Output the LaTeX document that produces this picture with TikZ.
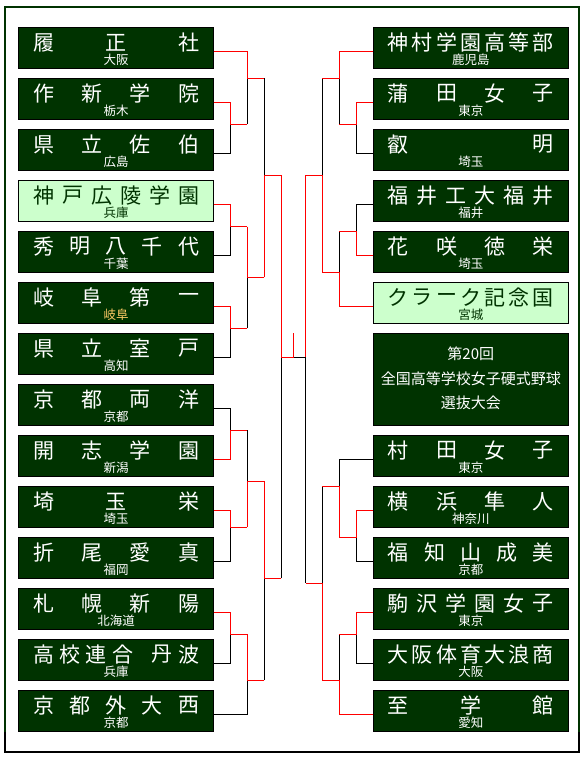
\documentclass[tikz,border=0pt]{standalone}
\usepackage{fontspec}
\newfontfamily\jp{Noto Sans CJK JP}
\usetikzlibrary{calc}
\definecolor{dg}{HTML}{003300}
\definecolor{lg}{HTML}{CCFFCC}
\definecolor{pref}{HTML}{FFCC66}
\tikzset{
  basebox/.style={draw=black, line width=1pt, minimum width=195pt, minimum height=41pt, inner sep=0pt, outer sep=0pt},
  darkbox/.style={basebox, fill=dg},
  lightbox/.style={basebox, fill=lg},
  darktxt/.style={font=\jp\fontsize{21}{21}\selectfont, text=white, inner sep=0pt},
  lighttxt/.style={font=\jp\fontsize{21}{21}\selectfont, text=dg, inner sep=0pt},
  darksm/.style={font=\jp\fontsize{12.5}{12.5}\selectfont, text=white, inner sep=0pt},
  lightsm/.style={font=\jp\fontsize{12.5}{12.5}\selectfont, text=dg, inner sep=0pt},
  orangesm/.style={font=\jp\fontsize{12.5}{12.5}\selectfont, text=pref, inner sep=0pt},
  win/.style={draw=red, line width=1pt},
  lose/.style={draw=black, line width=1pt},
}
% #1 id, #2 x, #3 top, #4 n chars, #5 chars, #6 prefecture, #7 style prefix, #8 pref style
\newcommand\teambox[8]{%
  \node[#7box, anchor=north west] (#1) at (#2,#3) {};
  \foreach \ch [count=\k from 0] in {#5} {%
    \pgfmathsetmacro\xx{#2+25+\k*145/(#4-1)}%
    \node[#7txt] (#1-c\k) at (\xx,#3+15.2) {\ch};
  }%
  \node[#8] (#1-p) at (#2+97.5,#3+32.2) {#6};
}
% positioned variant: #4 = max position, #5 = pos/char list
\newcommand\teamboxpos[8]{%
  \node[#7box, anchor=north west] (#1) at (#2,#3) {};
  \foreach \ps/\ch [count=\k from 0] in {#5} {%
    \pgfmathsetmacro\xx{#2+25+\ps*145/#4}%
    \node[#7txt] (#1-c\k) at (\xx,#3+15.2) {\ch};
  }%
  \node[#8] (#1-p) at (#2+97.5,#3+32.2) {#6};
}
\begin{document}
\begin{tikzpicture}[x=1pt,y=-1pt]
\useasboundingbox (0,0) rectangle (587,760);
\fill[white] (0,0) rectangle (587,760);
% frame
\draw[dg, line width=2pt] (5,733) -- (5,7) -- (579,7) -- (579,733);
\draw[black, line width=2pt] (5,732) -- (5,752) -- (579,752) -- (579,732);

% left teams
\teambox{L1}{18.5}{27.3}{3}{履,正,社}{大阪}{dark}{darksm}
\teambox{L2}{18.5}{78.3}{4}{作,新,学,院}{栃木}{dark}{darksm}
\teambox{L3}{18.5}{129.3}{4}{県,立,佐,伯}{広島}{dark}{darksm}
\teambox{L4}{18.5}{180.3}{6}{神,戸,広,陵,学,園}{兵庫}{light}{lightsm}
\teambox{L5}{18.5}{231.3}{5}{秀,明,八,千,代}{千葉}{dark}{darksm}
\teambox{L6}{18.5}{282.3}{4}{岐,阜,第,一}{岐阜}{dark}{orangesm}
\teambox{L7}{18.5}{333.3}{4}{県,立,室,戸}{高知}{dark}{darksm}
\teambox{L8}{18.5}{384.3}{4}{京,都,両,洋}{京都}{dark}{darksm}
\teambox{L9}{18.5}{435.3}{4}{開,志,学,園}{新潟}{dark}{darksm}
\teambox{L10}{18.5}{486.3}{3}{埼,玉,栄}{埼玉}{dark}{darksm}
\teambox{L11}{18.5}{537.3}{4}{折,尾,愛,真}{福岡}{dark}{darksm}
\teambox{L12}{18.5}{588.3}{4}{札,幌,新,陽}{北海道}{dark}{darksm}
\teamboxpos{L13}{18.5}{639.3}{5.5}{0/高,1/校,2/連,3/合,4.5/丹,5.5/波}{兵庫}{dark}{darksm}
\teambox{L14}{18.5}{690.3}{5}{京,都,外,大,西}{京都}{dark}{darksm}

% right teams
\teambox{R1}{373.3}{27.3}{7}{神,村,学,園,高,等,部}{鹿児島}{dark}{darksm}
\teambox{R2}{373.3}{78.3}{4}{蒲,田,女,子}{東京}{dark}{darksm}
\teambox{R3}{373.3}{129.3}{2}{叡,明}{埼玉}{dark}{darksm}
\teambox{R4}{373.3}{180.3}{6}{福,井,工,大,福,井}{福井}{dark}{darksm}
\teambox{R5}{373.3}{231.3}{4}{花,咲,徳,栄}{埼玉}{dark}{darksm}
\teambox{R6}{373.3}{282.3}{7}{ク,ラ,ー,ク,記,念,国}{宮城}{light}{lightsm}
\node[darkbox, anchor=north west, minimum height=92pt] (title) at (373.3,333.3) {};
\node[darksm, font=\jp\fontsize{15}{15}\selectfont] (t1) at (470.8,353.3) {第20回};
\node[darksm, font=\jp\fontsize{15}{15}\selectfont] (t2) at (470.8,378.3) {全国高等学校女子硬式野球};
\node[darksm, font=\jp\fontsize{15}{15}\selectfont] (t3) at (470.8,402.7) {選抜大会};
\teambox{R7}{373.3}{435.3}{4}{村,田,女,子}{東京}{dark}{darksm}
\teambox{R8}{373.3}{486.3}{4}{横,浜,隼,人}{神奈川}{dark}{darksm}
\teambox{R9}{373.3}{537.3}{5}{福,知,山,成,美}{京都}{dark}{darksm}
\teambox{R10}{373.3}{588.3}{6}{駒,沢,学,園,女,子}{東京}{dark}{darksm}
\teambox{R11}{373.3}{639.3}{7}{大,阪,体,育,大,浪,商}{大阪}{dark}{darksm}
\teambox{R12}{373.3}{690.3}{3}{至,学,館}{愛知}{dark}{darksm}

% ports
\foreach \i in {1,...,14} {\coordinate (L\i p) at ([yshift=-24.2pt]L\i.north east);}
\foreach \i in {1,...,12} {\coordinate (R\i p) at ([yshift=-24.2pt]R\i.north west);}

% junctions left
\coordinate (A) at (230.5,124.3);
\coordinate (B) at (247.3,78.3);
\coordinate (C) at (230.5,226.7);
\coordinate (D) at (230.5,328.3);
\coordinate (E) at (247.3,277.3);
\coordinate (F) at (264.3,175);
\coordinate (G) at (230.5,430.3);
\coordinate (H) at (230.5,527);
\coordinate (I) at (247.3,481);
\coordinate (J) at (230.5,634.3);
\coordinate (K) at (247.3,680.3);
\coordinate (Lm) at (264.3,578.3);
\coordinate (SL) at (281.3,357.3);
\coordinate (W) at (293.3,357.3);
\coordinate (Top) at (293.3,333.3);
\coordinate (SR) at (305.5,357.3);
% junctions right
\coordinate (RA) at (356.5,124.3);
\coordinate (RB) at (339.3,78.3);
\coordinate (RC) at (356.5,231);
\coordinate (RD) at (339.3,272.3);
\coordinate (RE) at (322.3,175);
\coordinate (RP) at (356.5,537.3);
\coordinate (RQ) at (339.3,486.7);
\coordinate (RS) at (356.5,634.3);
\coordinate (RT) at (339.3,680);
\coordinate (RU) at (322.3,583.3);

% losing lines (black)
\draw[lose] (L3p) -| (A);
\draw[lose] (A -| B) -- (B);
\draw[lose] (L5p) -| (C);
\draw[lose] (L7p) -| (D);
\draw[lose] (D -| E) -- (E);
\draw[lose] (B -| F) -- (F);
\draw[lose] (L8p) -| (G);
\draw[lose] (G -| I) -- (I);
\draw[lose] (L11p) -| (H);
\draw[lose] (L13p) -| (J);
\draw[lose] (L14p) -| (K);
\draw[lose] (K -| Lm) -- (Lm);
\draw[lose] (Lm -| SL) -- (SL);
\draw[lose] (W) -- (SR) -- (RU -| SR);
\draw[lose] (R3p) -| (RA);
\draw[lose] (RA -| RB) -- (RB);
\draw[lose] (R4p) -| (RC);
\draw[lose] (RC -| RD) -- (RD);
\draw[lose] (RB -| RE) -- (RE);
\draw[lose] (R9p) -| (RP);
\draw[lose] (R7p) -| (RQ);
\draw[lose] (RQ -| RU) -- (RU);
\draw[lose] (R11p) -| (RS);
\draw[lose] (RS -| RT) -- (RT);

% winning lines (red)
\draw[win] (L2p) -| (A) -- (A -| B);
\draw[win] (L1p) -| (B) -- (B -| F);
\draw[win] (L4p) -| (C) -- (C -| E);
\draw[win] (L6p) -| (D) -- (D -| E);
\draw[win] (C -| E) -- (E) -- (E -| F);
\draw[win] (E -| F) -- (F) -- (F -| SL);
\draw[win] (F -| SL) -- (SL) -- (W) -- (Top);
\draw[win] (L9p) -| (G) -- (G -| I);
\draw[win] (L10p) -| (H) -- (H -| I);
\draw[win] (H -| I) -- (I) -- (I -| Lm);
\draw[win] (L12p) -| (J) -- (J -| K);
\draw[win] (J -| K) -- (K) -- (K -| Lm);
\draw[win] (I -| Lm) -- (Lm) -- (Lm -| SL);
\draw[win] (R2p) -| (RA) -- (RA -| RB);
\draw[win] (R1p) -| (RB) -- (RB -| RE);
\draw[win] (R5p) -| (RC) -- (RC -| RD);
\draw[win] (R6p) -| (RD) -- (RD -| RE);
\draw[win] (RD -| RE) -- (RE) -- (RE -| SR) -- (SR);
\draw[win] (R8p) -| (RP) -- (RP -| RQ);
\draw[win] (RP -| RQ) -- (RQ) -- (RQ -| RU);
\draw[win] (R10p) -| (RS) -- (RS -| RT);
\draw[win] (R12p) -| (RT) -- (RT -| RU);
\draw[win] (RT -| RU) -- (RU) -- (RU -| SR);
\end{tikzpicture}
\end{document}
